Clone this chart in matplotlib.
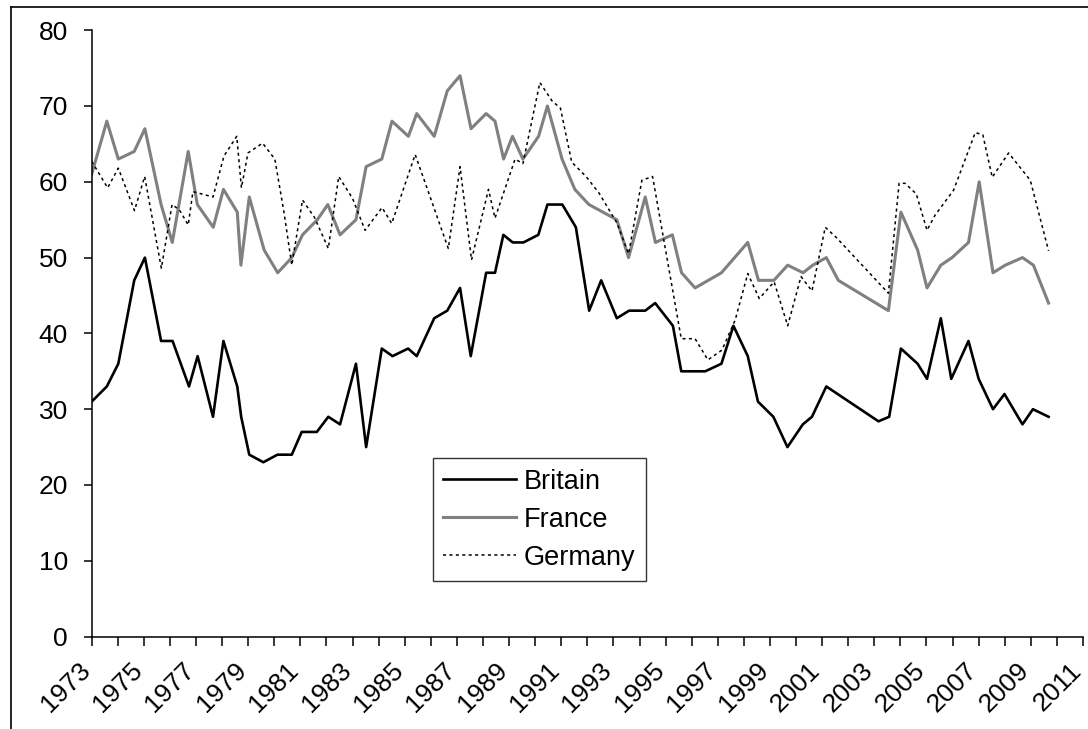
import matplotlib
matplotlib.use('Agg')
import matplotlib.pyplot as plt
from matplotlib.lines import Line2D
from matplotlib.transforms import ScaledTranslation

plt.rcParams['font.family'] = ['Liberation Sans', 'DejaVu Sans']

# survey dates (decimal years) and shares
britain_years = [1973.00, 1973.58, 1974.02, 1974.63, 1975.04, 1975.66, 1976.10, 1976.73,
                 1977.06, 1977.65, 1978.05, 1978.58, 1978.73, 1979.04, 1979.58, 1980.12,
                 1980.67, 1981.05, 1981.63, 1982.07, 1982.52, 1983.13, 1983.52, 1984.12,
                 1984.53, 1985.13, 1985.46, 1986.13, 1986.63, 1987.12, 1987.53, 1988.12,
                 1988.46, 1988.78, 1989.14, 1989.55, 1990.12, 1990.47, 1991.04, 1991.56,
                 1992.07, 1992.53, 1993.13, 1993.60, 1994.22, 1994.60, 1995.28, 1995.60,
                 1996.52, 1997.14, 1997.60, 1998.15, 1998.54, 1999.13, 1999.67, 2000.26,
                 2000.61, 2001.16, 2003.16, 2003.57, 2004.02, 2004.66, 2005.02, 2005.55,
                 2005.95, 2006.61, 2007.00, 2007.55, 2007.99, 2008.68, 2009.08, 2009.68]
britain = [31, 33, 36, 47, 50, 39, 39, 33,
           37, 29, 39, 33, 29, 24, 23, 24,
           24, 27, 27, 29, 28, 36, 25, 38,
           37, 38, 37, 42, 43, 46, 37, 48,
           48, 53, 52, 52, 53, 57, 57, 54,
           43, 47, 42, 43, 43, 44, 41, 35,
           35, 36, 41, 37, 31, 29, 25, 28,
           29, 33, 28.4, 29, 38, 36, 34, 42,
           34, 39, 34, 30, 32, 28, 30, 29]

france_years = [1973.00, 1973.58, 1974.02, 1974.63, 1975.04, 1975.66, 1976.09, 1976.70,
                1977.05, 1977.66, 1978.05, 1978.58, 1978.72, 1979.04, 1979.61, 1980.13,
                1980.67, 1981.08, 1981.65, 1982.05, 1982.52, 1983.13, 1983.52, 1984.12,
                1984.51, 1985.14, 1985.46, 1986.13, 1986.63, 1987.12, 1987.54, 1988.12,
                1988.46, 1988.79, 1989.13, 1989.53, 1990.13, 1990.47, 1991.03, 1991.52,
                1992.06, 1993.13, 1993.58, 1994.22, 1994.61, 1995.26, 1995.61, 1996.13,
                1997.14, 1998.15, 1998.56, 1999.15, 1999.68, 2000.27, 2000.64, 2001.16,
                2001.62, 2003.54, 2004.02, 2004.66, 2005.02, 2005.55, 2005.98, 2006.61,
                2007.02, 2007.55, 2008.02, 2008.68, 2009.10, 2009.68]
france = [61, 68, 63, 64, 67, 57, 52, 64,
          57, 54, 59, 56, 49, 58, 51, 48,
          50, 53, 55, 57, 53, 55, 62, 63,
          68, 66, 69, 66, 72, 74, 67, 69,
          68, 63, 66, 63, 66, 70, 63, 59,
          57, 55, 50, 58, 52, 53, 48, 46,
          48, 52, 47, 47, 49, 48, 49, 50,
          47, 43, 56, 51, 46, 49, 50, 52,
          60, 48, 49, 50, 49, 44]

germany_years = [1973.00, 1973.61, 1974.02, 1974.64, 1975.03, 1975.67, 1976.08, 1976.36,
                 1976.70, 1976.88, 1977.65, 1978.07, 1978.56, 1978.74, 1978.99, 1979.55,
                 1980.02, 1980.37, 1980.67, 1981.08, 1981.54, 1982.07, 1982.47, 1983.00,
                 1983.48, 1984.13, 1984.50, 1985.40, 1986.67, 1987.12, 1987.56, 1988.21,
                 1988.46, 1989.23, 1989.53, 1990.18, 1990.64, 1990.97, 1991.40, 1991.95,
                 1992.45, 1993.13, 1993.58, 1994.09, 1994.50, 1995.60, 1996.13, 1996.62,
                 1997.16, 1997.67, 1998.15, 1998.59, 1999.16, 1999.68, 2000.19, 2000.61,
                 2001.12, 2001.53, 2003.35, 2003.54, 2003.95, 2004.18, 2004.61, 2005.02,
                 2005.33, 2006.04, 2006.87, 2007.16, 2007.52, 2008.15, 2008.98, 2009.68]
germany = [62.7, 59.2, 61.8, 56.2, 60.7, 48.6, 57.0, 56.3,
           54.3, 58.7, 58.0, 63.4, 66.0, 59.2, 63.8, 65.1,
           63.0, 56.0, 49.0, 57.6, 55.3, 51.2, 60.7, 57.8,
           53.6, 56.6, 54.5, 63.6, 51.2, 62.0, 49.7, 59.0,
           55.2, 63.0, 62.4, 73.1, 70.7, 69.7, 62.6, 60.7,
           58.5, 54.6, 50.5, 60.2, 60.7, 39.3, 39.3, 36.5,
           37.8, 41.8, 47.9, 44.6, 46.8, 41.0, 47.5, 45.6,
           54.0, 52.7, 46.0, 45.3, 59.8, 59.8, 58.4, 53.6,
           55.6, 58.9, 66.5, 66.2, 60.6, 63.8, 60.2, 50.9]

tick_years = list(range(1973, 2012))
tick_labels = [str(y) if (y - 1973) % 2 == 0 else '' for y in tick_years]

W, H = 1088, 729
fig = plt.figure(figsize=(W / 100, H / 100), dpi=100)
ax = fig.add_axes([91.7 / W, 1 - 636.6 / H, (1083 - 91.7) / W, (636.6 - 30.2) / H])

ax.plot(britain_years, britain, color='black', lw=1.9, label='Britain')
ax.plot(france_years, france, color='#808080', lw=2.2, label='France')
ax.plot(germany_years, germany, color='black', lw=1.1, linestyle=(0, (2, 2.2)), label='Germany')

ax.set_xlim(1973, 2011)
ax.set_ylim(0, 80)
ax.set_yticks(range(0, 81, 10))
ax.set_xticks(tick_years)
ax.set_xticklabels(tick_labels)

for side in ['top', 'right']:
    ax.spines[side].set_visible(False)
for side in ['left', 'bottom']:
    ax.spines[side].set_linewidth(1.1)

ax.tick_params(axis='y', length=6, width=1.1, pad=11, labelsize=19)
ax.tick_params(axis='x', length=6.5, width=1.1, pad=9, labelsize=19)
shift = ScaledTranslation(-0.14, 0, fig.dpi_scale_trans)
for lab in ax.get_xticklabels():
    lab.set_rotation(45)
    lab.set_ha('right')
    lab.set_va('top')
    lab.set_rotation_mode('anchor')
    lab.set_transform(lab.get_transform() + shift)

leg = ax.legend(loc='upper left', bbox_to_anchor=(432.7 / W, 1 - 458.3 / H),
                bbox_transform=fig.transFigure, borderaxespad=0, fontsize=19.5,
                fancybox=False, handlelength=2.7, handletextpad=0.28,
                labelspacing=0.45, borderpad=0.38)
leg.get_frame().set_edgecolor('black')
leg.get_frame().set_linewidth(1.0)

# chart area border (partly outside the image)
fig.add_artist(Line2D([11 / W, 11 / W], [0, 1 - 7 / H], transform=fig.transFigure,
                      color='black', lw=1.2))
fig.add_artist(Line2D([11 / W, 1], [1 - 7 / H, 1 - 7 / H], transform=fig.transFigure,
                      color='black', lw=1.2))

fig.savefig('out.png', dpi=100)
